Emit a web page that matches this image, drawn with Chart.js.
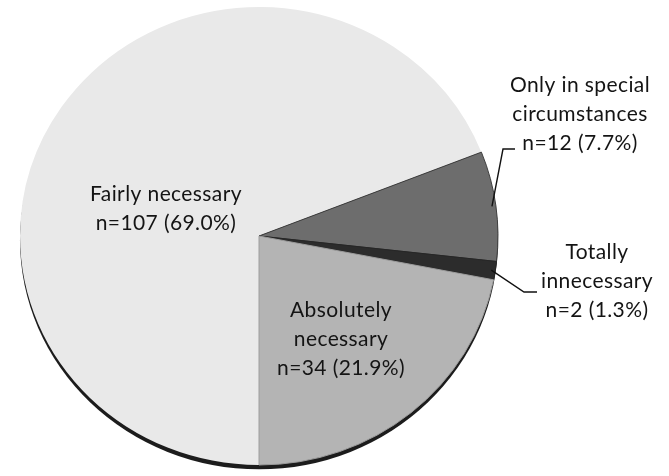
<!DOCTYPE html>
<html>
<head>
<meta charset="utf-8">
<script src="https://cdn.jsdelivr.net/npm/chart.js@4.4.1/dist/chart.umd.min.js"></script>
<style>
  html, body { margin: 0; padding: 0; background: #ffffff; }
  #wrap { width: 669px; height: 476px; position: relative; }
</style>
</head>
<body>
<div id="wrap"><canvas id="c" width="669" height="476"></canvas></div>
<script>
// ---- data ----
const categories = ["Fairly necessary", "Only in special circumstances", "Totally innecessary", "Absolutely necessary"];
const counts = [107, 12, 2, 34];
const percents = ["69.0%", "7.7%", "1.3%", "21.9%"];
const labelLines = [
  ["Fairly necessary", "n=107 (69.0%)"],
  ["Only in special", "circumstances", "n=12 (7.7%)"],
  ["Totally", "innecessary", "n=2 (1.3%)"],
  ["Absolutely", "necessary", "n=34 (21.9%)"]
];
const sliceColors = ["#e9e9e9", "#6d6d6d", "#2c2c2c", "#b4b4b4"];
const sliceBorders = ["rgba(0,0,0,0)", "#3c3c3c", "#262626", "#9c9c9c"];

// ---- layout of labels (text anchor positions) ----
const labelPos = [
  { x: 166, y: 201, inside: true },
  { x: 580, y: 92, inside: false, leader: [[515, 149], [503, 149]] },
  { x: 597, y: 259, inside: false, leader: [[537, 292], [524, 292]] },
  { x: 341, y: 317, inside: true }
];
const lineGap = 29;
const yScale = 229 / 239;

const ellipsePlugin = {
  id: 'ellipse',
  beforeDatasetsDraw(chart) {
    const meta = chart.getDatasetMeta(0);
    const arc = meta.data[0];
    const ctx = chart.ctx;
    const cx = arc.x, cy = arc.y, r = arc.outerRadius;
    ctx.save();
    ctx.translate(cx, cy);
    ctx.scale(1, yScale);
    ctx.translate(-cx, -cy);
    // dark rim / shadow under the pie
    ctx.save();
    ctx.filter = 'blur(0.7px)';
    ctx.fillStyle = '#1c1c1c';
    ctx.beginPath();
    ctx.arc(cx, cy + 4.5, r, 0, Math.PI * 2);
    ctx.fill();
    ctx.restore();
  },
  afterDatasetsDraw(chart) {
    chart.ctx.restore();
  }
};

const labelPlugin = {
  id: 'labels',
  afterDraw(chart) {
    const ctx = chart.ctx;
    const meta = chart.getDatasetMeta(0);
    ctx.save();
    ctx.font = '21px Lato, "Open Sans", sans-serif';
    ctx.letterSpacing = '0.4px';
    ctx.fillStyle = '#141414';
    ctx.textAlign = 'center';
    ctx.textBaseline = 'alphabetic';
    labelLines.forEach((lines, i) => {
      const p = labelPos[i];
      lines.forEach((t, k) => ctx.fillText(t, p.x, p.y + k * lineGap));
      if (p.leader) {
        const arc = meta.data[i];
        const mid = (arc.startAngle + arc.endAngle) / 2;
        const ex = arc.x + Math.cos(mid) * (arc.outerRadius - 4);
        const ey = arc.y + Math.sin(mid) * (arc.outerRadius - 4) * yScale;
        ctx.strokeStyle = '#111';
        ctx.lineWidth = 1.4;
        ctx.beginPath();
        ctx.moveTo(p.leader[0][0], p.leader[0][1]);
        ctx.lineTo(p.leader[1][0], p.leader[1][1]);
        ctx.lineTo(ex, ey);
        ctx.stroke();
      }
    });
    ctx.restore();
  }
};

new Chart(document.getElementById('c'), {
  type: 'pie',
  data: {
    labels: categories,
    datasets: [{
      data: counts,
      backgroundColor: sliceColors,
      borderColor: sliceBorders,
      borderWidth: 1,
      rotation: 180,
      radius: 239,
      clip: false
    }]
  },
  options: {
    responsive: false,
    animation: false,
    events: [],
    layout: { padding: { left: 0, right: 151, top: 0, bottom: 4 } },
    plugins: { legend: { display: false }, tooltip: { enabled: false } }
  },
  plugins: [ellipsePlugin, labelPlugin]
});
</script>
</body>
</html>
